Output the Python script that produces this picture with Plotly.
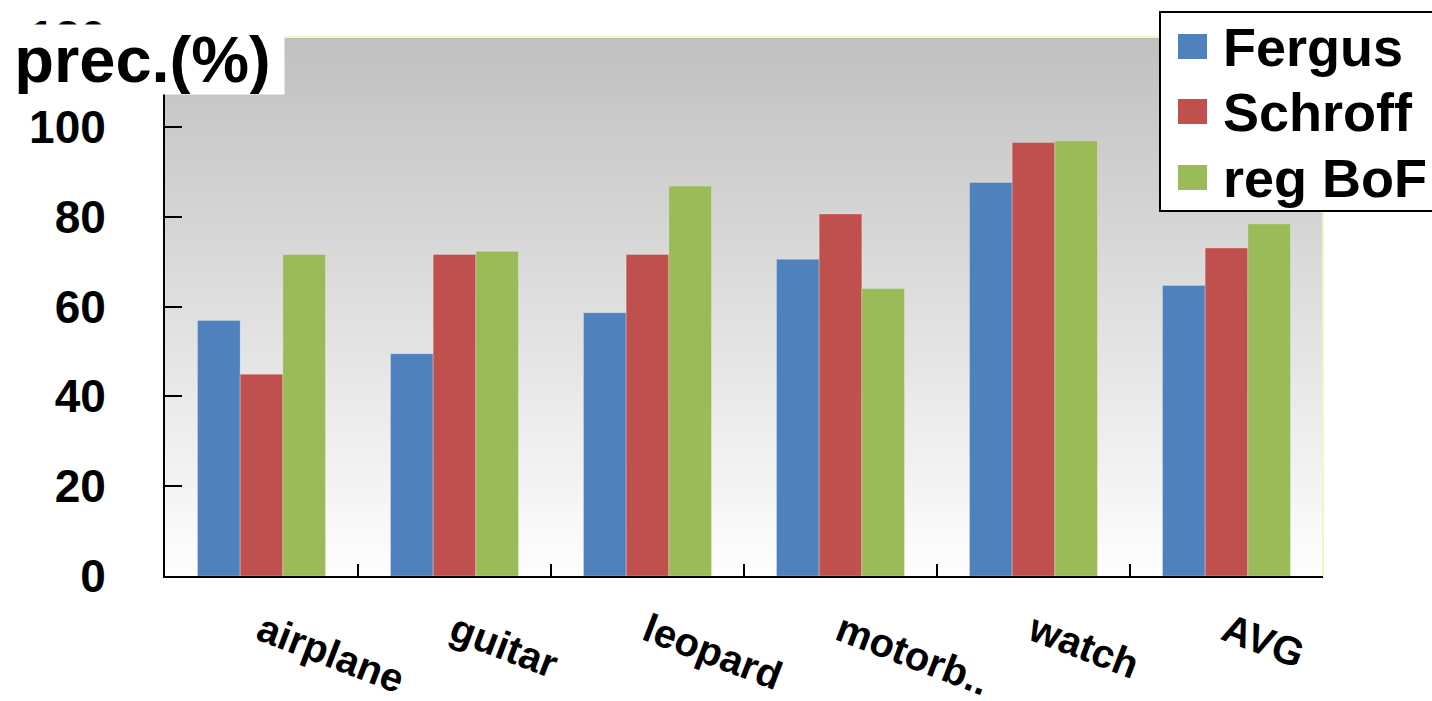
import plotly.graph_objects as go

# Precision (%) per category for each method
categories = ["airplane", "guitar", "leopard", "motorb..", "watch", "AVG"]
fergus = [56.9, 49.5, 58.6, 70.5, 87.6, 64.7]
schroff = [44.9, 71.6, 71.6, 80.6, 96.5, 73.0]
reg_bof = [71.6, 72.3, 86.8, 64.0, 96.9, 78.4]

series_names = ["Fergus", "Schroff", "reg BoF"]
series_values = [fergus, schroff, reg_bof]
series_colors = ["#4F81BD", "#C0504D", "#9BBB59"]

y_ticks = [0, 20, 40, 60, 80, 100, 120]

FONT = "Liberation Sans, Arial, sans-serif"

W, H = 1432, 701
ML, MR, MT, MB = 165, 109, 37, 125
PW, PH = W - ML - MR, H - MT - MB


def px_x(px):
    return (px - ML) / PW


def px_y(py):
    return (H - MB - py) / PH


fig = go.Figure()
for name, vals, col in zip(series_names, series_values, series_colors):
    fig.add_trace(go.Bar(
        name=name, x=categories, y=vals,
        marker=dict(color=col, line=dict(width=1, color="rgba(255,255,255,0.25)")),
        showlegend=False,
    ))

shapes = []
# vertical gray-to-white gradient behind the bars
n_bands = 120
for i in range(n_bands):
    t = (i + 0.5) / n_bands
    c = round(254 - (254 - 192) * t)
    shapes.append(dict(
        type="rect", xref="paper", yref="paper",
        x0=0, x1=1, y0=i / n_bands, y1=(i + 1) / n_bands + 0.002,
        fillcolor=f"rgb({c},{c},{c})", line=dict(width=0), layer="below",
    ))
# pale frame on top and right
shapes.append(dict(type="line", xref="paper", yref="paper", x0=0, x1=1, y0=1, y1=1,
                   line=dict(color="#f4f4c4", width=2), layer="below"))
shapes.append(dict(type="line", xref="paper", yref="paper", x0=1, x1=1, y0=0, y1=1,
                   line=dict(color="#f4f4c4", width=2), layer="below"))

# legend box
shapes.append(dict(type="rect", xref="paper", yref="paper",
                   x0=px_x(1160), x1=px_x(1445), y0=px_y(211), y1=px_y(12),
                   fillcolor="white", line=dict(color="black", width=2), layer="above"))

annotations = []
row_centers = [47, 112, 178]
for name, col, yc in zip(series_names, series_colors, row_centers):
    shapes.append(dict(type="rect", xref="paper", yref="paper",
                       x0=px_x(1178), x1=px_x(1207), y0=px_y(yc + 12), y1=px_y(yc - 13),
                       fillcolor=col, line=dict(width=0), layer="above"))
    annotations.append(dict(
        xref="paper", yref="paper", x=px_x(1221), y=px_y(yc),
        xanchor="left", yanchor="middle", text=name, showarrow=False,
        font=dict(family=FONT, size=54, color="black", weight="bold"),
    ))

# axis title in a white box at the top left
annotations.append(dict(
    xref="paper", yref="paper", x=px_x(0), y=px_y(24),
    xanchor="left", yanchor="top", width=283, height=69, borderpad=0,
    align="center", valign="middle", bgcolor="white",
    text="prec.(%)", showarrow=False,
    font=dict(family=FONT, size=65, color="black", weight="bold"),
))

fig.update_layout(
    width=W, height=H,
    margin=dict(l=ML, r=MR, t=MT, b=MB, autoexpand=False),
    paper_bgcolor="white", plot_bgcolor="rgba(0,0,0,0)",
    barmode="group", bargap=0.337, bargroupgap=0,
    shapes=shapes, annotations=annotations,
    showlegend=False,
)

fig.update_xaxes(
    type="category", categoryorder="array", categoryarray=categories,
    showline=True, linecolor="black", linewidth=2,
    ticks="inside", tickson="boundaries", ticklen=12, tickwidth=2, tickcolor="black",
    tickangle=21, ticklabelstandoff=14,
    tickfont=dict(family=FONT, size=40, color="black", weight="bold"),
    showgrid=False, zeroline=False,
)
fig.update_yaxes(
    range=[0, 120], tickvals=y_ticks, ticktext=[str(v) for v in y_ticks],
    showline=True, linecolor="black", linewidth=2,
    ticks="inside", ticklen=17, tickwidth=2, tickcolor="black",
    ticklabelstandoff=48,
    tickfont=dict(family=FONT, size=46, color="black", weight="bold"),
    showgrid=False, zeroline=False,
)

fig.write_html("out.html")
